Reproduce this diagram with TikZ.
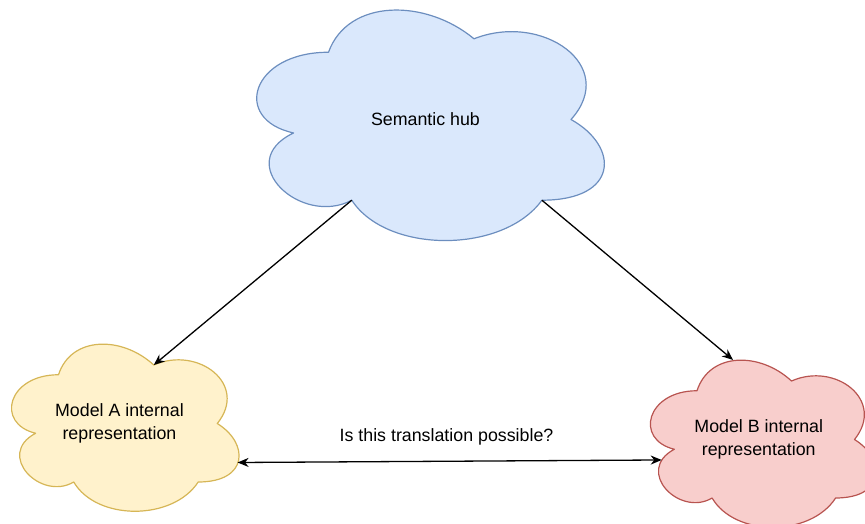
\documentclass[tikz,border=0pt]{standalone}
\usepackage{fontspec}
\setmainfont{Liberation Sans}
\usetikzlibrary{arrows.meta}

\definecolor{hubfill}{HTML}{DAE8FC}
\definecolor{hubline}{HTML}{6C8EBF}
\definecolor{afill}{HTML}{FFF2CC}
\definecolor{aline}{HTML}{D6B656}
\definecolor{bfill}{HTML}{F8CECC}
\definecolor{bline}{HTML}{B85450}

\tikzset{
  cloudedge/.style={line width=1.2pt, line join=round},
  cloudtext/.style={align=center, inner sep=0pt,
    font=\fontsize{17.8pt}{23pt}\selectfont},
  tip/.tip={Stealth[length=11pt,width=9pt,inset=3.5pt]},
  link/.style={line width=1.3pt, -tip},
  twoway/.style={line width=1.3pt, tip-tip},
}

% Cloud outline in a unit box, y axis pointing down
\newcommand\cloudoutline[1]{%
  \filldraw[cloudedge,#1] (0.25,0.25)
    .. controls (0.05,0.25) and (0,0.5) .. (0.16,0.55)
    .. controls (0,0.66) and (0.18,0.9) .. (0.31,0.8)
    .. controls (0.4,1) and (0.7,1) .. (0.8,0.8)
    .. controls (1,0.8) and (1,0.6) .. (0.875,0.5)
    .. controls (1,0.3) and (0.8,0.1) .. (0.625,0.2)
    .. controls (0.5,0.05) and (0.3,0.05) .. (0.25,0.25) -- cycle;}

\begin{document}
\begin{tikzpicture}[x=1pt, y=-1pt]
  \useasboundingbox (0,0) rectangle (865,524);

  % semantic hub
  \begin{scope}[shift={(231.5,-15)}, xscale=388, yscale=269]
    \cloudoutline{draw=hubline, fill=hubfill}
    \node[cloudtext] (hub) at (0.5,0.5) {Semantic hub};
    \coordinate (hubL) at (0.31,0.8);
    \coordinate (hubR) at (0.8,0.8);
  \end{scope}

  % model A
  \begin{scope}[shift={(-5,326)}, xscale=254, yscale=195]
    \cloudoutline{draw=aline, fill=afill}
    \node[cloudtext] (modelA) at (0.49,0.5) {Model A internal\\representation};
    \coordinate (aTop) at (0.625,0.2);
    \coordinate (aRight) at (0.955,0.70);
  \end{scope}

  % model B
  \begin{scope}[shift={(634,342)}, xscale=252, yscale=195]
    \cloudoutline{draw=bline, fill=bfill}
    \node[cloudtext] (modelB) at (0.495,0.5) {Model B internal\\representation};
    \coordinate (bTop) at (0.393,0.092);
    \coordinate (bLeft) at (0.11,0.605);
  \end{scope}

  % connectors
  \draw[link] (hubL) -- (aTop);
  \draw[link] (hubR) -- (bTop);
  \draw[twoway] (aRight) -- (bLeft);
  \node[cloudtext] (question) at (446.5,437) {Is this translation possible?};
\end{tikzpicture}
\end{document}
